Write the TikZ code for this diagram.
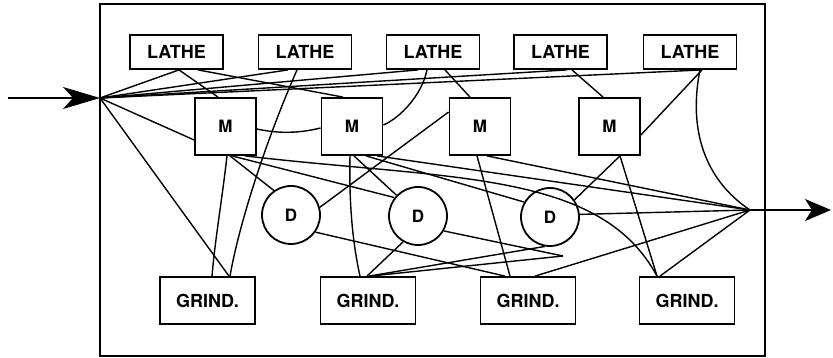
\documentclass[tikz,border=0pt]{standalone}
\usepackage{fontspec}
\setmainfont{TeX Gyre Heros}
\usetikzlibrary{arrows.meta}
\begin{document}
\begin{tikzpicture}[x=1pt,y=-1pt,
  mach/.style={draw, line width=1.8pt, minimum width=93pt, minimum height=34pt, inner sep=0pt, font=\fontsize{18}{20}\selectfont\bfseries},
  mbox/.style={draw, line width=1.8pt, minimum width=61pt, minimum height=57pt, inner sep=0pt, font=\fontsize{17}{19}\selectfont\bfseries},
  dcirc/.style={draw, circle, line width=1.8pt, minimum size=58pt, inner sep=0pt, font=\fontsize{17}{19}\selectfont\bfseries},
  gbox/.style={draw, line width=1.8pt, minimum width=95pt, minimum height=47pt, inner sep=0pt, font=\fontsize{18}{20}\selectfont\bfseries},
  conn/.style={line width=1.4pt},
  frame/.style={draw, line width=1.3pt}
]
\useasboundingbox (0,0) rectangle (833,358);
\fill[white] (0,0) rectangle (833,358);
\draw[frame] (100,4) rectangle (765,356);

\node[mach] (L1) at (176.5,52) {LATHE};
\node[mach] (L2) at (305,52) {LATHE};
\node[mach] (L3) at (433,52) {LATHE};
\node[mach] (L4) at (560.5,52) {LATHE};
\node[mach] (L5) at (690,52) {LATHE};

\node[mbox] (M1) at (225.5,126.5) {M};
\node[mbox] (M2) at (352,126.5) {M};
\node[mbox] (M3) at (480,126.5) {M};
\node[mbox] (M4) at (609.5,126.5) {M};

\node[dcirc] (D1) at (291,215) {D};
\node[dcirc] (D2) at (418,216) {D};
\node[dcirc] (D3) at (550,217) {D};

\node[gbox] (G1) at (207.5,300.5) {GRIND.};
\node[gbox] (G2) at (368,300.5) {GRIND.};
\node[gbox] (G3) at (528,300.5) {GRIND.};
\node[gbox] (G4) at (687,300.5) {GRIND.};

\coordinate (S) at (8,98);
\coordinate (I) at (100,98);
\coordinate (O) at (750,210);
\coordinate (E) at (831,210);
\coordinate (J) at (563,256);

% input / output
\draw[conn, -{Stealth[length=37pt,width=22pt,inset=10pt]}] (S) -- (I);
\draw[conn, -{Stealth[length=26pt,width=22pt,inset=7pt]}] (O) -- (E);

% from input hub
\draw[conn] (I) -- ([xshift=2.5pt]L1.south);
\draw[conn] (I) -- ([xshift=-17pt]L2.south);
\draw[conn] (I) -- ([xshift=-15pt]L3.south);
\draw[conn] (I) -- ([xshift=6.5pt]L4.south);
\draw[conn] (I) -- ([xshift=12pt]L5.south);
\draw[conn] (I) -- ([yshift=-13.5pt]M1.west);
\draw[conn] (I) -- ([xshift=21.5pt]G1.north);

% lathes
\draw[conn] ([xshift=2.5pt]L1.south) -- ([xshift=-7.5pt]M1.north);
\draw[conn] ([xshift=21.5pt]L1.south) -- ([xshift=-9pt]M2.north);
\draw[conn] ([xshift=-8pt]L2.south) .. controls (262,150) and (238,230) .. ([xshift=22.5pt]G1.north);
\draw[conn] ([xshift=-6pt]L3.south) .. controls (422,95) and (400,118) .. ([yshift=1.5pt]M2.east);
\draw[conn] ([xshift=12pt]L3.south) -- ([xshift=-10pt]M3.north);
\draw[conn] ([xshift=11.5pt]L4.south) -- ([xshift=-6.5pt]M4.north);
\draw[conn] ([xshift=12pt]L5.south) -- ([yshift=-8.5pt]M4.east);
\draw[conn] ([xshift=10pt]L5.south) .. controls (688,130) and (705,180) .. (O);

% M1
\draw[conn] ([yshift=-2.5pt]M1.east) .. controls (280,134) and (300,133) .. ([yshift=-1.5pt]M2.west);
\draw[conn] ([xshift=1.5pt]M1.south) .. controls (222,200) and (215,240) .. ([xshift=4.5pt]G1.north);
\draw[conn] ([xshift=4.5pt]M1.south) -- (D1.125);
\draw[conn] ([xshift=6.5pt]M1.south) -- (D2.142);
\draw[conn] ([xshift=19.5pt]M1.south) .. controls (450,180) and (600,170) .. ([xshift=-30pt]G4.north);

% M2
\draw[conn] ([xshift=-2pt]M2.south) .. controls (349,200) and (352,240) .. ([xshift=-8pt]G2.north);
\draw[conn] ([xshift=2pt]M2.south) -- (D2.136);
\draw[conn] ([xshift=14pt]M2.south) -- (D3.150);
\draw[conn] ([xshift=25pt]M2.south) -- (O);

% M3
\draw[conn] (D1.15) -- ([yshift=14.5pt]M3.west);
\draw[conn] ([xshift=-3pt]M3.south) -- ([xshift=-18pt]G3.north);
\draw[conn] ([xshift=7pt]M3.south) -- (O);

% M4
\draw[conn] ([xshift=10.5pt]M4.south) -- (D3.35);
\draw[conn] ([xshift=10.5pt]M4.south) -- ([xshift=-30pt]G4.north);

% D and G
\draw[conn] (D3.5) -- (O);
\draw[conn] (D1.-35) -- ([xshift=-23pt]G3.north);
\draw[conn] (D2.-120) -- ([xshift=-1pt]G2.north);
\draw[conn] (D2.-30) -- (J);
\draw[conn] ([xshift=2pt]G2.north) -- (J);
\draw[conn] ([xshift=1pt]G2.north) -- (D3.-100);
\draw[conn] ([xshift=7pt]G3.north) -- (O);
\draw[conn] ([xshift=-27pt]G4.north) -- (O);
\end{tikzpicture}
\end{document}
